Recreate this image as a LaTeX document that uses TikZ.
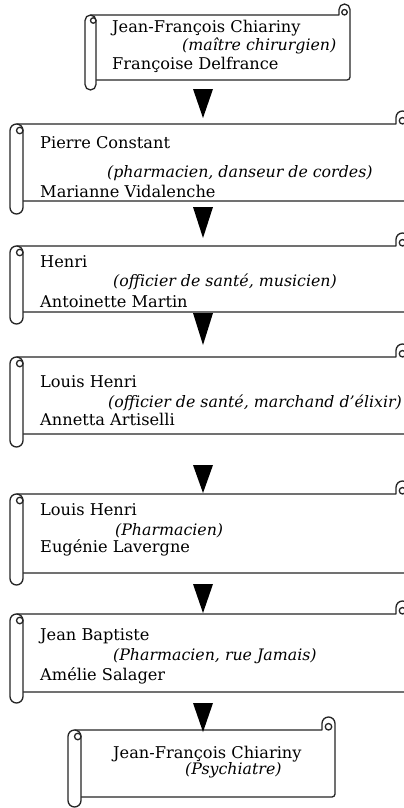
\documentclass[tikz,border=0pt]{standalone}
\usepackage{fontspec}
\setmainfont{DejaVu Serif}
\tikzset{
  scrl/.style={draw=black!85, line width=1.3pt, line join=round},
  nm/.style={anchor=base west, inner sep=0pt, font=\fontsize{16.2}{18}\selectfont},
  itx/.style={anchor=base west, inner sep=0pt, font=\fontsize{15.8}{18}\selectfont\itshape},
  tri/.style={fill=black},
}
% #1 L, #2 w, #3 T, #4 B, #5 R, #6 D
\newcommand\myscroll[6]{%
  \pgfmathsetmacro\rr{#2/2}
  \fill[white] ({#1+\rr},{-#3}) rectangle ({#5},{-#4});
  \draw[scrl] ({#1+\rr},{-#3}) -- ({#5-#2},{-#3}) -- ({#5-#2},{-(#3-\rr)})
     arc[start angle=180,end angle=0,radius=\rr] -- ({#5},{-(#4-3)})
     arc[start angle=0,end angle=-90,radius=3] -- ({#1+#2},{-#4});
  \draw[scrl] ({#5-\rr},{-(#3-\rr/2)}) circle[radius=\rr/2];
  \draw[scrl,fill=white] ({#1+#2},{-(#3+\rr)}) -- ({#1+#2},{-(#4+#6-\rr)})
     arc[start angle=0,end angle=-180,radius=\rr] -- ({#1},{-(#3+\rr)})
     arc[start angle=180,end angle=0,radius=\rr] -- cycle;
  \draw[scrl] ({#1+#2-\rr/2},{-(#3+\rr)}) circle[radius=\rr/2];
}
\newcommand\mytri[2]{% top y, tip y
  \fill[tri] (193,{-#1}) -- (213,{-#1}) -- (203,{-#2}) -- cycle;
}
\begin{document}
\begin{tikzpicture}[x=1pt,y=1pt]
\clip (0,0) rectangle (404,-808);
\fill[white] (0,0) rectangle (404,-808);

\myscroll{85}{11}{15}{80}{350}{10}
\node[nm]  (s1a) at (112,-33) {Jean-François Chiariny};
\node[itx] (s1b) at (182,-51) {(maître chirurgien)};
\node[nm]  (s1c) at (112,-70) {Françoise Delfrance};

\myscroll{10}{13}{124}{201}{409}{13}
\node[nm]  (s2a) at (40,-148) {Pierre Constant};
\node[itx] (s2b) at (107,-177) {(pharmacien, danseur de cordes)};
\node[nm]  (s2c) at (40,-197) {Marianne Vidalenche};

\myscroll{10}{13}{246}{312}{409}{12}
\node[nm]  (s3a) at (40,-267) {Henri};
\node[itx] (s3b) at (113,-286) {(officier de santé, musicien)};
\node[nm]  (s3c) at (40,-307) {Antoinette Martin};

\myscroll{10}{13}{357}{434}{409}{13}
\node[nm]  (s4a) at (40,-387) {Louis Henri};
\node[itx] (s4b) at (108,-407) {(officier de santé, marchand d’élixir)};
\node[nm]  (s4c) at (40,-425) {Annetta Artiselli};

\myscroll{10}{13}{494}{573}{409}{12}
\node[nm]  (s5a) at (40,-515) {Louis Henri};
\node[itx] (s5b) at (115,-535) {(Pharmacien)};
\node[nm]  (s5c) at (40,-552) {Eugénie Lavergne};

\myscroll{10}{13}{614}{692}{409}{11}
\node[nm]  (s6a) at (40,-640) {Jean Baptiste};
\node[itx] (s6b) at (113,-660) {(Pharmacien, rue Jamais)};
\node[nm]  (s6c) at (40,-680) {Amélie Salager};

\myscroll{68}{13}{730}{797}{335}{10}
\node[nm]  (s7a) at (113,-758) {Jean-François Chiariny};
\node[itx] (s7b) at (185,-774) {(Psychiatre)};

\mytri{89}{118}
\mytri{207}{238}
\mytri{313}{345}
\mytri{465}{493}
\mytri{584}{613}
\mytri{703}{732}
\end{tikzpicture}
\end{document}
